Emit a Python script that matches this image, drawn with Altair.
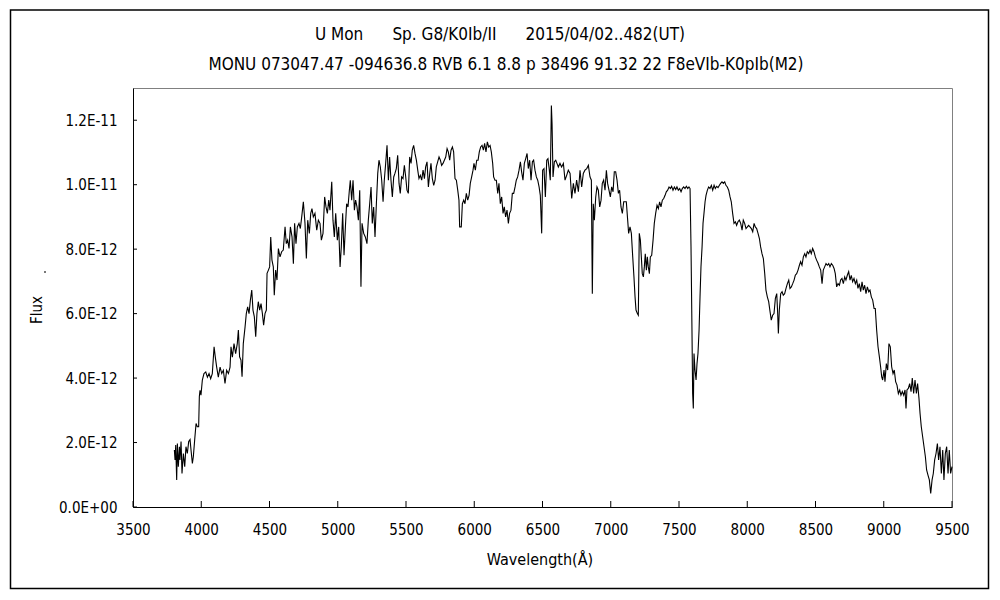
import altair as alt
import pandas as pd

NB = "\u00a0"
TITLE1 = "U Mon" + NB * 6 + "Sp. G8/K0Ib/II" + NB * 6 + "2015/04/02..482(UT)"
TITLE2 = "MONU 073047.47 -094636.8 RVB 6.1 8.8 p 38496 91.32 22 F8eVIb-K0pIb(M2)"
X_TITLE = "Wavelength(Å)"
Y_TITLE = "Flux"

X_TICKS = [3500, 4000, 4500, 5000, 5500, 6000, 6500, 7000, 7500, 8000, 8500, 9000, 9500]
Y_TICKS = [0, 2, 4, 6, 8, 10, 12]  # in units of 1E-12

WAVE = [
    3803, 3808, 3813, 3820, 3825, 3832, 3840, 3844, 3852, 3859,
    3869, 3879, 3888, 3898, 3908, 3918, 3925, 3935, 3942, 3952,
    3962, 3971, 3981, 3986, 3991, 3998, 4008, 4020, 4033, 4045,
    4057, 4069, 4081, 4094, 4103, 4113, 4125, 4138, 4150, 4162,
    4174, 4186, 4199, 4211, 4218, 4228, 4240, 4252, 4264, 4272,
    4281, 4291, 4299, 4308, 4321, 4330, 4340, 4350, 4360, 4370,
    4379, 4389, 4399, 4408, 4418, 4428, 4438, 4448, 4457, 4467,
    4477, 4482, 4492, 4501, 4509, 4518, 4528, 4535, 4545, 4555,
    4565, 4577, 4589, 4601, 4614, 4623, 4633, 4643, 4653, 4665,
    4675, 4684, 4694, 4704, 4716, 4726, 4736, 4748, 4760, 4770,
    4780, 4792, 4802, 4811, 4821, 4833, 4846, 4858, 4870, 4880,
    4892, 4904, 4914, 4924, 4934, 4943, 4956, 4965, 4975, 4985,
    4997, 5007, 5017, 5026, 5036, 5046, 5056, 5065, 5075, 5085,
    5092, 5102, 5112, 5122, 5131, 5141, 5151, 5161, 5170, 5178,
    5190, 5202, 5214, 5224, 5234, 5244, 5253, 5263, 5273, 5283,
    5293, 5302, 5312, 5322, 5332, 5341, 5351, 5361, 5371, 5380,
    5390, 5400, 5410, 5419, 5429, 5439, 5449, 5458, 5468, 5478,
    5488, 5498, 5507, 5517, 5527, 5537, 5546, 5556, 5566, 5576,
    5586, 5595, 5605, 5615, 5625, 5635, 5644, 5654, 5664, 5674,
    5683, 5693, 5703, 5713, 5722, 5732, 5742, 5752, 5761, 5771,
    5781, 5791, 5801, 5810, 5820, 5830, 5840, 5849, 5859, 5869,
    5879, 5888, 5893, 5905, 5913, 5923, 5932, 5942, 5952, 5962,
    5971, 5981, 5991, 5998, 6008, 6018, 6028, 6037, 6047, 6057,
    6067, 6076, 6086, 6096, 6106, 6116, 6125, 6135, 6142, 6152,
    6162, 6172, 6181, 6191, 6201, 6211, 6220, 6230, 6240, 6250,
    6259, 6269, 6279, 6289, 6299, 6308, 6318, 6328, 6338, 6347,
    6357, 6367, 6377, 6387, 6396, 6406, 6416, 6426, 6435, 6445,
    6455, 6465, 6475, 6484, 6494, 6501, 6511, 6521, 6531, 6540,
    6550, 6557, 6565, 6570, 6577, 6587, 6597, 6606, 6616,
    6628, 6640, 6653, 6665, 6677, 6689, 6702, 6714, 6726, 6738,
    6750, 6763, 6775, 6787, 6799, 6811, 6824, 6836, 6848, 6858,
    6865, 6872, 6880, 6890, 6899, 6909, 6919, 6929, 6938, 6948,
    6958, 6968, 6977, 6987, 6997, 7007, 7017, 7026, 7036, 7046,
    7056, 7065, 7075, 7085, 7095, 7104, 7114, 7124, 7131, 7141,
    7151, 7161, 7170, 7178, 7185, 7195, 7202, 7209, 7217, 7224,
    7231, 7239, 7246, 7253, 7261, 7268, 7275, 7283, 7290, 7300,
    7310, 7319, 7329, 7339, 7349, 7358, 7368, 7378, 7388, 7398,
    7407, 7417, 7427, 7437, 7446, 7456, 7466, 7476, 7485, 7495,
    7505, 7515, 7524, 7534, 7544, 7554, 7564, 7573, 7581, 7588,
    7595, 7600, 7605, 7610, 7617, 7625, 7632, 7639, 7647, 7654,
    7661, 7669, 7676, 7683, 7691, 7698, 7708, 7717, 7727, 7737,
    7747, 7757, 7766, 7776, 7786, 7796, 7805, 7815, 7825, 7835,
    7844, 7854, 7864, 7874, 7883, 7893, 7903, 7913, 7922, 7932,
    7942, 7952, 7962, 7971, 7981, 7991, 8001, 8010, 8020, 8030,
    8040, 8050, 8059, 8069, 8079, 8089, 8098, 8108, 8118, 8128,
    8137, 8147, 8157, 8167, 8176, 8186, 8196, 8206, 8216, 8223,
    8228, 8235, 8245, 8255, 8264, 8274, 8284, 8294, 8304, 8313,
    8323, 8333, 8343, 8352, 8362, 8372, 8382, 8391, 8401, 8411,
    8421, 8430, 8440, 8450, 8460, 8469, 8479, 8489, 8499, 8508,
    8518, 8528, 8538, 8548, 8557, 8567, 8577, 8587, 8597, 8606,
    8616, 8626, 8636, 8645, 8655, 8665, 8675, 8684, 8694, 8704,
    8714, 8723, 8733, 8743, 8753, 8762, 8772, 8782, 8792, 8802,
    8811, 8821, 8831, 8841, 8850, 8860, 8870, 8880, 8890, 8899,
    8909, 8919, 8929, 8938, 8948, 8958, 8968, 8977, 8985, 8992,
    9002, 9009, 9019, 9029, 9038, 9048, 9058, 9068, 9077, 9087,
    9097, 9107, 9117, 9126, 9136, 9146, 9156, 9163, 9170, 9180,
    9190, 9200, 9209, 9219, 9229, 9239, 9248, 9258, 9266, 9275,
    9285, 9295, 9305, 9314, 9324, 9334, 9344, 9354, 9363, 9373,
    9383, 9393, 9402, 9412, 9422, 9432, 9441, 9451, 9461, 9471,
    9480, 9490, 9500,
]

# flux in units of 1E-12
FLUX = [
    1.77, 1.46, 1.92, 0.84, 1.97, 1.25, 1.87, 1.46, 2.03, 1.04,
    1.66, 1.25, 1.87, 1.66, 2.03, 2.09, 1.77, 1.35, 1.56, 2.09,
    2.59, 2.49, 2.49, 3.43, 3.62, 3.47, 3.94, 4.14, 4.19, 4.03,
    4.14, 3.98, 4.14, 4.97, 4.65, 4.34, 4.03, 4.34, 4.14, 4.24,
    3.83, 4.24, 4.14, 4.34, 4.97, 4.65, 5.07, 4.76, 5.07, 5.49,
    4.66, 4.56, 4.04, 5.07, 5.59, 6.00, 6.21, 6.00, 6.42, 6.73,
    6.11, 5.90, 5.28, 6.00, 6.37, 6.11, 6.31, 6.00, 5.64, 6.00,
    6.11, 7.25, 7.35, 7.45, 8.38, 7.66, 7.45, 6.57, 7.35, 7.04,
    8.02, 7.76, 7.92, 7.97, 8.69, 8.17, 8.28, 8.02, 8.69, 8.38,
    7.55, 8.80, 8.17, 8.69, 8.80, 8.64, 9.00, 9.47, 8.80, 7.71,
    8.90, 8.49, 9.11, 9.26, 9.00, 9.11, 8.59, 8.90, 8.80, 8.28,
    8.49, 9.62, 9.31, 9.11, 9.52, 9.21, 10.09, 8.90, 8.38, 9.11,
    8.28, 8.69, 7.45, 8.07, 9.11, 7.81, 8.69, 9.41, 9.31, 9.83,
    10.14, 9.52, 10.14, 9.21, 9.52, 9.31, 8.90, 9.83, 6.83, 8.80,
    8.49, 8.38, 8.17, 8.90, 9.41, 9.93, 8.80, 9.31, 8.38, 9.41,
    10.35, 10.76, 10.55, 10.14, 9.47, 10.14, 10.66, 11.22, 10.14, 10.86,
    10.14, 9.62, 10.24, 10.35, 10.50, 10.91, 10.04, 9.73, 10.24, 10.19,
    10.60, 10.24, 9.83, 9.73, 10.86, 10.66, 11.07, 11.22, 10.97, 10.76,
    10.45, 10.19, 10.29, 10.14, 10.45, 10.19, 10.55, 10.71, 9.93, 10.35,
    10.66, 10.19, 9.98, 10.14, 10.55, 10.71, 10.86, 10.76, 10.60, 10.66,
    10.76, 10.86, 11.12, 11.02, 10.76, 11.07, 11.17, 11.02, 10.19, 10.14,
    9.83, 9.52, 8.69, 8.69, 9.41, 9.52, 9.41, 9.73, 9.52, 9.67,
    10.04, 10.24, 10.45, 10.66, 10.45, 10.76, 10.76, 11.02, 11.17, 11.22,
    11.07, 11.28, 11.02, 11.33, 11.17, 11.22, 11.02, 10.66, 10.24, 10.14,
    10.14, 9.73, 10.04, 9.41, 9.62, 9.11, 9.31, 9.00, 9.21, 8.80,
    9.11, 9.21, 9.73, 9.73, 9.93, 10.14, 10.24, 10.45, 10.71, 10.40,
    10.14, 10.66, 10.81, 10.97, 10.50, 10.76, 10.14, 10.71, 10.76, 10.45,
    10.24, 10.14, 9.93, 9.67, 8.49, 10.45, 10.50, 9.62, 10.76, 10.81,
    10.45, 10.14, 12.46, 11.90, 10.24, 10.71, 10.76, 10.66, 10.55,
    10.66, 10.55, 10.66, 10.14, 10.29, 10.45, 10.35, 9.57, 10.04, 9.73,
    10.14, 9.78, 10.45, 9.93, 10.35, 10.45, 10.50, 10.60, 10.24, 10.14,
    6.62, 9.41, 8.90, 9.62, 9.93, 9.83, 9.31, 9.52, 10.04, 10.14,
    9.83, 10.45, 10.04, 9.83, 9.62, 9.93, 9.78, 10.40, 10.40, 10.14,
    9.73, 9.83, 9.31, 9.11, 9.47, 9.47, 9.47, 8.90, 8.49, 8.69,
    8.49, 7.76, 7.14, 6.52, 6.11, 6.00, 5.95, 8.49, 8.28, 7.76,
    7.24, 7.14, 7.45, 7.86, 7.35, 7.76, 7.45, 7.24, 7.76, 7.81,
    8.28, 8.80, 9.11, 9.36, 9.26, 9.47, 9.31, 9.52, 9.57, 9.67,
    9.78, 9.83, 9.93, 9.88, 9.95, 9.83, 9.93, 9.85, 9.93, 9.83,
    9.88, 9.78, 9.88, 9.93, 9.88, 9.95, 9.88, 9.93, 9.88, 8.07,
    5.49, 3.52, 3.06, 4.76, 4.25, 3.94, 4.45, 4.76, 5.49, 6.52,
    7.45, 8.07, 8.80, 9.11, 9.47, 9.67, 9.83, 9.93, 9.88, 9.98,
    9.83, 9.98, 9.88, 9.95, 9.91, 9.98, 10.04, 10.09, 10.04, 10.09,
    9.98, 9.93, 9.83, 9.62, 9.47, 9.11, 8.80, 8.85, 8.74, 8.85,
    8.90, 8.80, 8.59, 8.90, 8.80, 8.64, 8.69, 8.74, 8.69, 8.64,
    8.54, 8.80, 8.69, 8.64, 8.49, 8.33, 8.07, 7.86, 7.71, 7.24,
    6.73, 6.52, 6.37, 6.06, 5.80, 5.95, 6.00, 6.47, 6.62, 6.00,
    5.38, 6.11, 6.62, 6.68, 6.57, 6.62, 6.78, 6.93, 7.04, 6.78,
    6.83, 6.93, 7.04, 7.19, 7.24, 7.35, 7.50, 7.61, 7.50, 7.76,
    7.86, 7.76, 7.92, 7.86, 7.97, 7.86, 8.02, 7.92, 7.76, 7.66,
    7.57, 7.45, 7.35, 6.93, 7.35, 7.45, 7.55, 7.50, 7.55, 7.45,
    7.55, 7.50, 7.40, 7.24, 6.83, 6.93, 6.88, 7.04, 7.09, 6.93,
    7.14, 7.04, 7.19, 7.30, 7.04, 7.19, 6.99, 7.09, 6.93, 7.04,
    6.78, 6.93, 6.68, 6.99, 6.73, 6.88, 6.62, 6.83, 6.68, 6.73,
    6.52, 6.42, 6.16, 6.16, 5.49, 4.97, 4.66, 4.35, 4.04, 3.94,
    4.25, 3.89, 4.45, 4.25, 5.07, 4.97, 4.35, 4.14, 4.25, 3.89,
    3.78, 3.52, 3.63, 3.47, 3.58, 3.47, 3.63, 3.06, 3.63, 3.68,
    3.83, 3.58, 4.00, 3.52, 3.94, 3.52, 3.83, 3.37, 2.90, 2.49,
    2.18, 1.87, 1.56, 1.15, 0.99, 0.84, 0.42, 0.84, 1.04, 1.46,
    1.66, 1.97, 1.46, 1.87, 1.04, 1.77, 0.84, 1.66, 1.87, 1.04,
    1.77, 1.04, 1.25,
]

n = min(len(WAVE), len(FLUX))
spec = pd.DataFrame({"wavelength": WAVE[:n], "flux": FLUX[:n]})

FONT = "Liberation Sans Narrow, Arial Narrow, DejaVu Sans Condensed, Liberation Sans, sans-serif"
W, H = 819, 419

xscale = alt.Scale(domain=[3500, 9500], nice=False, zero=False)
yscale = alt.Scale(domain=[0, 13], nice=False, zero=True)

ylabel = ("datum.value == 0 ? '0.0E+00' : (datum.value >= 10 ? "
          "format(datum.value / 10, '.1f') + 'E-11' : format(datum.value, '.1f') + 'E-12')")

line = alt.Chart(spec).mark_line(color="black", strokeWidth=1.1).encode(
    x=alt.X("wavelength:Q", scale=xscale,
            axis=alt.Axis(values=X_TICKS, format="d", title=None, grid=False, ticks=False, tickSize=0,
                          labelPadding=15, labelFontSize=15, labelFont=FONT, labelColor="black",
                          domainColor="black", domainWidth=1, labelFlush=False)),
    y=alt.Y("flux:Q", scale=yscale,
            axis=alt.Axis(values=Y_TICKS, title=None, grid=False, ticks=False, tickSize=0,
                          labelPadding=16, labelFontSize=15, labelFont=FONT, labelColor="black",
                          domainColor="black", domainWidth=1, labelExpr=ylabel, labelFlush=False)),
)

xt = alt.Chart(pd.DataFrame({"wavelength": X_TICKS})).mark_rule(color="black", strokeWidth=1).encode(
    x=alt.X("wavelength:Q", scale=xscale), y=alt.value(H), y2=alt.value(H - 6))
yt = alt.Chart(pd.DataFrame({"flux": Y_TICKS})).mark_rule(color="black", strokeWidth=1).encode(
    y=alt.Y("flux:Q", scale=yscale), x=alt.value(0), x2=alt.value(4))

def txt(s, x, y, size=16, angle=0):
    kw = dict(font=FONT, fontSize=size, color="black", align="center", baseline="middle")
    if angle:
        kw["angle"] = angle
    return alt.Chart(pd.DataFrame({"t": [s]})).mark_text(**kw).encode(
        text="t:N", x=alt.value(x), y=alt.value(y))

t1 = txt(TITLE1, 367, -53, size=17)
t2 = txt(TITLE2, 373, -23, size=17)
tx = txt(X_TITLE, 407, 472)
ty = txt(Y_TITLE, -96, 222, size=15, angle=270)
dot = alt.Chart(pd.DataFrame({"d": [0]})).mark_square(size=2, color="black", opacity=1).encode(
    x=alt.value(-88), y=alt.value(184))

frame = alt.Chart(pd.DataFrame({"d": [0]})).mark_rect(
    fill=None, stroke="black", strokeWidth=1.5).encode(
    x=alt.value(-122.5), x2=alt.value(855.5), y=alt.value(-78), y2=alt.value(500.5))

chart = alt.layer(frame, line, xt, yt, t1, t2, tx, ty, dot).properties(
    width=W, height=H,
    autosize=alt.AutoSizeParams(type="none"),
    padding={"left": 125, "top": 80, "right": 38, "bottom": 84},
    background="white",
).configure_view(stroke="#808080", strokeWidth=1)

chart.save("out.html", embed_options={"renderer": "svg", "actions": False})
